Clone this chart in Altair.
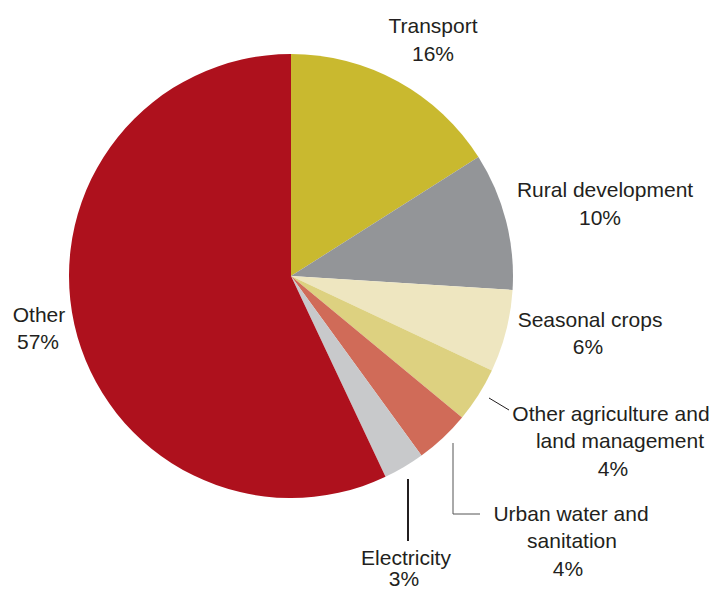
import altair as alt
import pandas as pd

categories = ["Transport", "Rural development", "Seasonal crops",
              "Other agriculture and land management", "Urban water and sanitation",
              "Electricity", "Other"]
shares = [16, 10, 6, 4, 4, 3, 57]
colors = ["#C9B92F", "#939598", "#EEE6C0", "#DDD180", "#D06B58", "#C8C9CB", "#AE111D"]

# label lines (text, and layout in page pixels)
label_text = ["Transport", "16%", "Rural development", "10%", "Seasonal crops", "6%",
              "Other agriculture and", "land management", "4%",
              "Urban water and", "sanitation", "4%",
              "Electricity", "3%", "Other", "57%"]
label_x = [433, 433, 605, 600, 590, 588, 611, 620, 613, 571, 572, 568, 406, 404, 39, 38]
label_y = [27, 55, 191, 219, 321, 348, 415, 442, 470, 515, 542, 570, 559, 580, 316, 343]

# leader segments (page pixels)
seg_x = [489, 453, 453, 408]
seg_y = [398, 443, 514, 479]
seg_x2 = [509, 453, 480, 408]
seg_y2 = [410, 514, 514, 541]
seg_w = [1, 1, 1, 2]
seg_c = ["#231F20", "#555555", "#555555", "#231F20"]

M = 8  # page margin
pie_df = pd.DataFrame({"category": categories, "share": shares, "idx": list(range(len(categories)))})
lab_df = pd.DataFrame({"t": label_text, "x": [v - M for v in label_x], "y": [v - M for v in label_y]})
seg_df = pd.DataFrame({"x": [v - M for v in seg_x], "y": [v - M for v in seg_y],
                       "x2": [v - M for v in seg_x2], "y2": [v - M for v in seg_y2],
                       "w": seg_w, "c": seg_c})

pie = alt.Chart(pie_df).mark_arc(radius=222).encode(
    theta=alt.Theta("share:Q", stack=True),
    order=alt.Order("idx:Q"),
    color=alt.Color("category:N", scale=alt.Scale(domain=categories, range=colors), legend=None),
    x=alt.value(291 - M),
    y=alt.value(276 - M),
)

labels = alt.Chart(lab_df).mark_text(
    font="Liberation Sans", fontSize=21, color="#231F20", align="center", baseline="middle"
).encode(
    x=alt.X("x:Q", scale=None),
    y=alt.Y("y:Q", scale=None),
    text="t:N",
)

segs = alt.Chart(seg_df).mark_rule().encode(
    x=alt.X("x:Q", scale=None),
    y=alt.Y("y:Q", scale=None),
    x2="x2:Q",
    y2="y2:Q",
    strokeWidth=alt.StrokeWidth("w:Q", scale=None),
    color=alt.Color("c:N", scale=None),
)

chart = alt.layer(pie, segs, labels).properties(
    width=705, height=583, padding=0,
    autosize=alt.AutoSizeParams(type="none"),
).configure_view(stroke=None)

chart.save("out.html", embed_options={"renderer": "svg", "actions": False})
